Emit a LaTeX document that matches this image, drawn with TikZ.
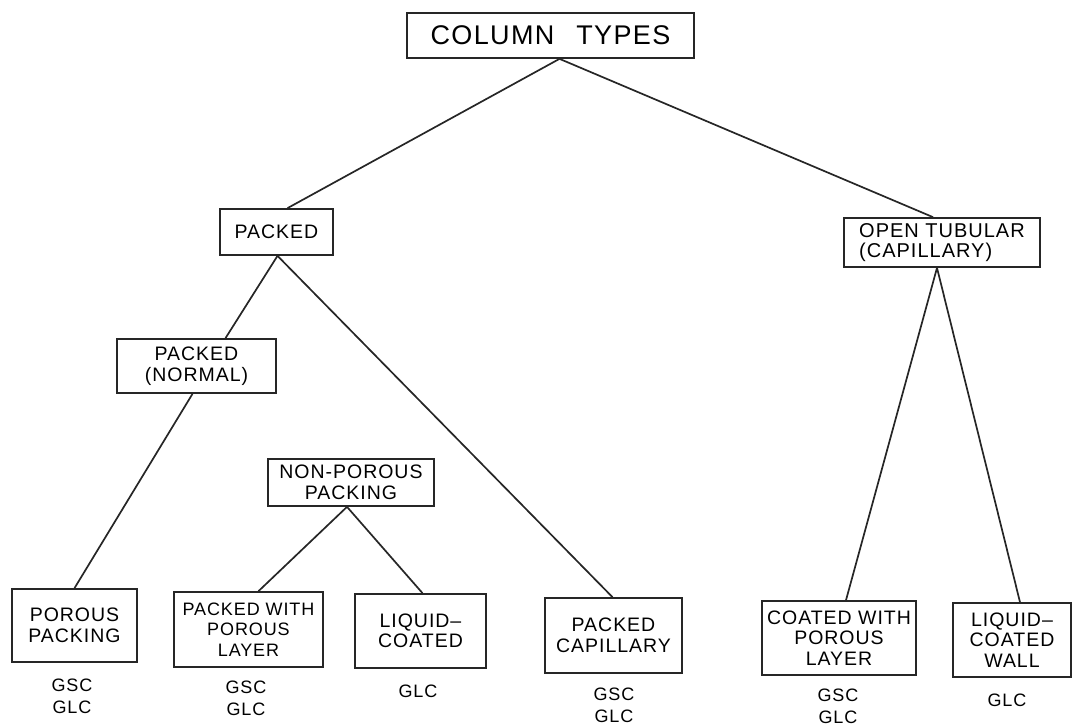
\documentclass[tikz,border=0pt]{standalone}
\usepackage{fontspec}
\setmainfont{Liberation Sans}[LetterSpace=5]
\begin{document}
\begin{tikzpicture}[x=1pt,y=-1pt,
  box/.style={draw=black!85, line width=1.7pt, inner sep=0pt, align=center,
    font=\fontsize{19.5}{20.5}\selectfont},
  smallbox/.style={box, font=\fontsize{18}{20.5}\selectfont},
  usage/.style={inner sep=0pt, align=center, font=\fontsize{18}{22}\selectfont},
  link/.style={draw=black!85, line width=1.7pt}]
\useasboundingbox (0,0) rectangle (1074,727);
% boxes
\node[box, minimum width=287pt, minimum height=45pt, font=\fontsize{27}{28}\selectfont]
  (ct) at (550.5,35.5) {COLUMN\hspace{22pt}TYPES};
\node[box, minimum width=113pt, minimum height=46pt] (packed) at (276.5,232) {PACKED};
\node[box, minimum width=159pt, minimum height=54pt] (pn) at (196.5,366) {PACKED\\(NORMAL)};
\node[box, minimum width=196pt, minimum height=49pt, align=left, font=\fontsize{20}{20.5}\selectfont]
  (ot) at (942,242.5) {OPEN TUBULAR\\(CAPILLARY)};
\node[box, minimum width=166pt, minimum height=47pt] (np) at (351,482.5) {NON-POROUS\\PACKING};
\node[box, minimum width=125pt, minimum height=73pt] (pp) at (74.5,625.5) {POROUS\\PACKING};
\node[smallbox, minimum width=149pt, minimum height=75pt] (pwpl) at (248.5,629.5) {PACKED WITH\\POROUS\\LAYER};
\node[box, minimum width=131pt, minimum height=74pt] (lc) at (420.5,631) {LIQUID--\\COATED};
\node[box, minimum width=137pt, minimum height=75pt] (pc) at (613.5,635.5) {PACKED\\CAPILLARY};
\node[box, minimum width=154pt, minimum height=74pt] (cwpl) at (839,638) {COATED WITH\\POROUS\\LAYER};
\node[box, minimum width=118pt, minimum height=74pt] (lcw) at (1012,640) {LIQUID--\\COATED\\WALL};
% usage labels
\node[usage] (u1) at (72,696) {GSC\\GLC};
\node[usage] (u2) at (246,698) {GSC\\GLC};
\node[usage] (u3) at (418,691) {GLC};
\node[usage] (u4) at (614,705) {GSC\\GLC};
\node[usage] (u5) at (838,706) {GSC\\GLC};
\node[usage] (u6) at (1007,700) {GLC};
% connectors
\draw[link] ([xshift=9pt]ct.south) -- ([xshift=11pt]packed.north);
\draw[link] ([xshift=9pt]ct.south) -- ([xshift=-9pt]ot.north);
\draw[link] ([xshift=1pt]packed.south) -- ([xshift=29pt]pn.north);
\draw[link] ([xshift=1pt]packed.south) -- ([xshift=-1pt]pc.north);
\draw[link] ([xshift=-4pt]pn.south) -- ([xshift=0pt]pp.north);
\draw[link] ([xshift=-4pt]np.south) -- ([xshift=10pt]pwpl.north);
\draw[link] ([xshift=-4pt]np.south) -- ([xshift=2pt]lc.north);
\draw[link] ([xshift=-5pt]ot.south) -- ([xshift=7pt]cwpl.north);
\draw[link] ([xshift=-5pt]ot.south) -- ([xshift=8pt]lcw.north);
\end{tikzpicture}
\end{document}
